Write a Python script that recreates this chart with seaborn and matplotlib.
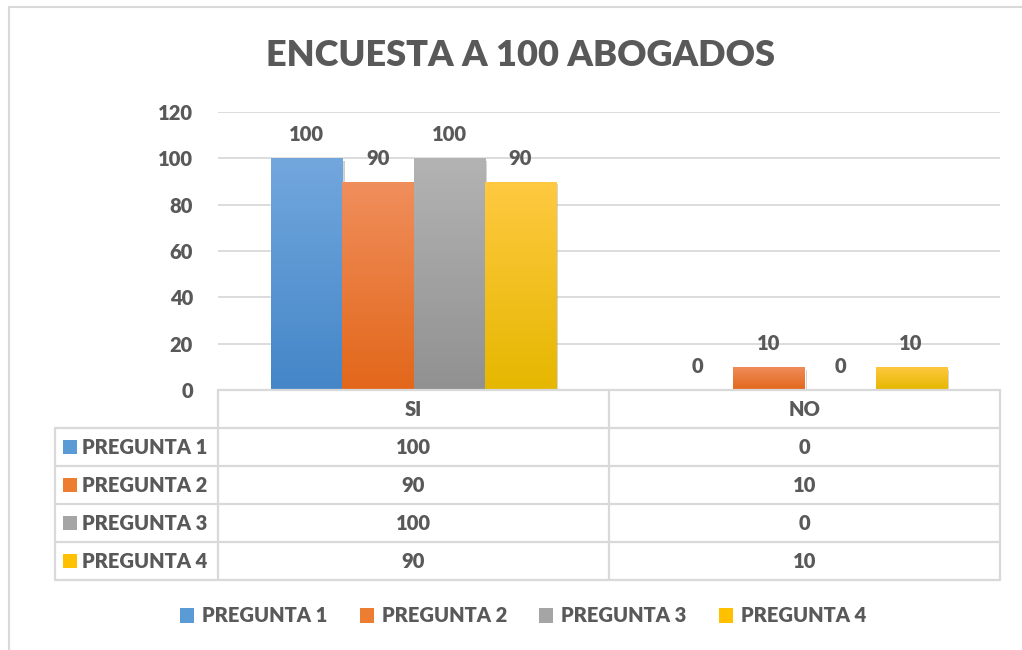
import numpy as np
import pandas as pd
import matplotlib.pyplot as plt
import matplotlib.patheffects as pe
import seaborn as sns
from matplotlib.colors import LinearSegmentedColormap
from matplotlib.lines import Line2D
from matplotlib.patches import Patch, Rectangle

# Data
respuestas = ['SI', 'NO']
preguntas = ['PREGUNTA 1', 'PREGUNTA 2', 'PREGUNTA 3', 'PREGUNTA 4']
pregunta_1 = [100, 0]
pregunta_2 = [90, 10]
pregunta_3 = [100, 0]
pregunta_4 = [90, 10]
y_ticks = [0, 20, 40, 60, 80, 100, 120]
titulo = 'ENCUESTA A 100 ABOGADOS'

series = [pregunta_1, pregunta_2, pregunta_3, pregunta_4]

# Colours (excel office theme, gradient top -> bottom)
colors_mid = ['#5B9BD5', '#ED7D31', '#A5A5A5', '#FFC000']
colors_top = ['#72A7DD', '#F08E5C', '#B3B3B3', '#FFC941']
colors_bottom = ['#4486C8', '#E2671A', '#919191', '#E6B700']
TEXT = '#595959'
LINE = '#D9D9D9'
FS = 14.5

W, H = 1022, 650

sns.set_style('white')
plt.rcParams['font.family'] = ['Lato', 'DejaVu Sans']
plt.rcParams['font.weight'] = 'heavy'

df = pd.DataFrame({
    'respuesta': respuestas * len(preguntas),
    'pregunta': np.repeat(preguntas, len(respuestas)),
    'valor': sum(series, []),
})


def fx(x):
    return x / W


def fy(y):
    return 1 - y / H


fig = plt.figure(figsize=(W / 100, H / 100), dpi=100)
ax = fig.add_axes([fx(218), fy(390), fx(1000) - fx(218), fy(112) - fy(390)])

sns.barplot(data=df, x='respuesta', y='valor', hue='pregunta', palette=colors_mid,
            width=0.727, saturation=1, ax=ax, legend=False, zorder=2)

# gradient fill + labels
for i, cont in enumerate(ax.containers):
    cmap = LinearSegmentedColormap.from_list('g%d' % i, [colors_bottom[i], colors_top[i]])
    for bar in cont:
        h = bar.get_height()
        if h <= 0:
            continue
        bar.set_path_effects([pe.SimplePatchShadow(offset=(2, -2), alpha=0.2, shadow_rgbFace='k'),
                              pe.Normal()])
        x0, w = bar.get_x(), bar.get_width()
        im = ax.imshow(np.linspace(0, 1, 100).reshape(-1, 1), cmap=cmap, origin='lower',
                       extent=[x0, x0 + w, 0, h], aspect='auto', zorder=3)
        im.set_clip_path(bar)
    ax.bar_label(cont, padding=10, fontsize=FS, color=TEXT)

ax.set_xlim(-0.5, 1.5)
ax.set_ylim(0, 120)
ax.set_yticks(y_ticks)
ax.set_xticks([])
ax.set_xlabel('')
ax.set_ylabel('')
ax.yaxis.grid(True, color=LINE, lw=1.3)
ax.set_axisbelow(True)
for s in ax.spines.values():
    s.set_visible(False)
ax.tick_params(axis='y', length=0, pad=18, labelsize=FS, labelcolor=TEXT)

# title
fig.text(fx(520), fy(55), titulo, ha='center', va='center', fontsize=26, color=TEXT)

# data table
def hline(y, x0, x1):
    fig.add_artist(Line2D([fx(x0), fx(x1)], [fy(y), fy(y)], color=LINE, lw=1.6))


def vline(x, y0, y1):
    fig.add_artist(Line2D([fx(x), fx(x)], [fy(y0), fy(y1)], color=LINE, lw=1.6))


hline(390, 218, 1000)
rows_y = [428, 466, 504, 542, 580]
for y in rows_y:
    hline(y, 55, 1000)
vline(55, 428, 580)
for x in [218, 609, 1000]:
    vline(x, 390, 580)

col_x = [413.5, 804.5]
for cx, r in zip(col_x, respuestas):
    fig.text(fx(cx), fy(409), r, ha='center', va='center', fontsize=FS, color=TEXT)

for i, (p, vals) in enumerate(zip(preguntas, series)):
    yc = (rows_y[i] + rows_y[i + 1]) / 2
    fig.add_artist(Rectangle((fx(63), fy(yc + 7)), fx(14), 14 / H,
                             facecolor=colors_mid[i], edgecolor='none'))
    fig.text(fx(82), fy(yc), p, ha='left', va='center', fontsize=FS, color=TEXT)
    for cx, v in zip(col_x, vals):
        fig.text(fx(cx), fy(yc), str(v), ha='center', va='center', fontsize=FS, color=TEXT)

# legend
handles = [Patch(facecolor=c, edgecolor='none') for c in colors_mid]
fig.legend(handles, preguntas, loc='center', bbox_to_anchor=(fx(523), fy(616)), ncol=4,
           frameon=False, fontsize=FS, handlelength=0.7, handleheight=0.7,
           handletextpad=0.4, columnspacing=1.6, labelcolor=TEXT)

# chart frame
fig.add_artist(Line2D([fx(9), fx(9)], [fy(7), fy(650)], color=LINE, lw=1.5))
fig.add_artist(Line2D([fx(9), fx(1022)], [fy(7), fy(7)], color=LINE, lw=1.5))

fig.savefig('out.png', dpi=100)
